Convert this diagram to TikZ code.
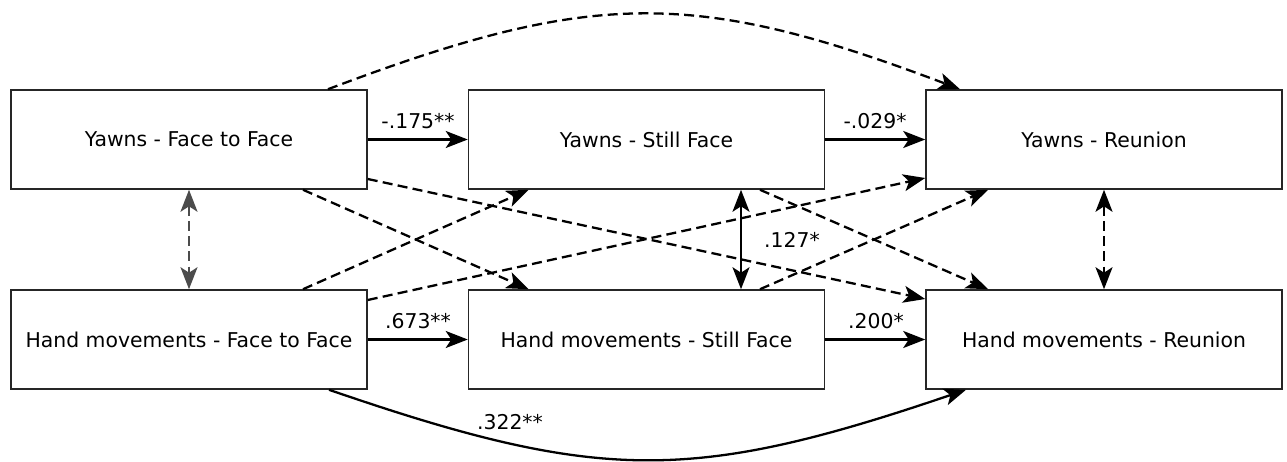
\documentclass[tikz,border=0pt]{standalone}
\usepackage{fontspec}
\setmainfont{DejaVu Sans}
\usetikzlibrary{arrows.meta,calc}
\begin{document}
\begin{tikzpicture}[x=0.02cm,y=-0.02cm,
  box/.style={draw=black!85, line width=0.9pt, minimum width=7.12cm, minimum height=1.98cm, inner sep=0pt, font=\fontsize{11.6}{13}\selectfont},
  lab/.style={font=\fontsize{11.6}{13}\selectfont, inner sep=0pt},
  tip/.tip={Stealth[length=0.44cm,width=0.34cm,inset=0.11cm]},
  conn/.style={line width=1.3pt, -tip},
  dconn/.style={conn, dash pattern=on 5.7pt off 3pt},
  both/.style={line width=1.3pt, tip-tip},
  dboth/.style={both, dash pattern=on 5.7pt off 3pt},
]
\useasboundingbox (0,0) rectangle (1287,462);
\node[box] (yf) at (189,139.5) {Yawns - Face to Face};
\node[box] (ys) at (646.5,139.5) {Yawns - Still Face};
\node[box] (yr) at (1104,139.5) {Yawns - Reunion};
\node[box] (hf) at (189,339.5) {Hand movements - Face to Face};
\node[box] (hs) at (646.5,339.5) {Hand movements - Still Face};
\node[box] (hr) at (1104,339.5) {Hand movements - Reunion};

% solid paths
\draw[conn] (yf) -- (ys);
\draw[conn] (ys) -- (yr);
\draw[conn] (hf) -- (hs);
\draw[conn] (hs) -- (hr);
\node[lab] (l1) at (418,121) {-.175**};
\node[lab] (l2) at (875,121) {-.029*};
\node[lab] (l3) at (418,321) {.673**};
\node[lab] (l4) at (876,321) {.200*};

% covariances
\draw[dboth, draw=black!70] (yf.south) -- (hf.north);
\draw[both] ($(ys.south)+(94.5,0)$) -- ($(hs.north)+(94.5,0)$);
\draw[dboth] (yr.south) -- (hr.north);
\node[lab] (l5) at (792,240) {.127*};

% dashed cross paths
\draw[dconn] ($(yf.south)+(114,0)$) -- ($(hs.north)+(-118,0)$);
\draw[dconn] ($(hf.north)+(114,0)$) -- ($(ys.south)+(-118,0)$);
\draw[dconn] ($(yf.east)+(0,39.5)$) -- ($(hr.west)+(0,-40.5)$);
\draw[dconn] ($(hf.east)+(0,-39.5)$) -- ($(yr.west)+(0,38.5)$);
\draw[dconn] ($(ys.south)+(113.5,0)$) -- ($(hr.north)+(-116,0)$);
\draw[dconn] ($(hs.north)+(113.5,0)$) -- ($(yr.south)+(-116,0)$);

% curved paths
\draw[dconn] ($(yf.north)+(139,0)$) .. controls (593,-11) and (695,-11) .. ($(yr.north)+(-144,0)$);
\draw[conn] ($(hf.south)+(140,0)$) .. controls (600,483) and (692,483) .. ($(hr.south)+(-138,0)$);
\node[lab] (l6) at (510,422) {.322**};
\end{tikzpicture}
\end{document}
